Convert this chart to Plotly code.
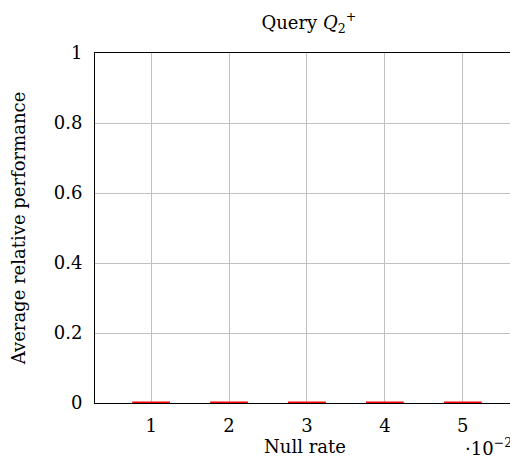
import plotly.graph_objects as go

null_rate = [1, 2, 3, 4, 5]
performance = [0.001, 0.001, 0.001, 0.001, 0.001]
y_ticks = [0, 0.2, 0.4, 0.6, 0.8, 1]
y_tick_labels = ["0", "0.2", "0.4", "0.6", "0.8", "1"]

FONT = "DejaVu Serif"
FS = 18

fig = go.Figure()
fig.add_trace(go.Scatter(
    x=null_rate, y=performance, mode="markers",
    marker=dict(symbol="line-ew", size=27, color="red",
                line=dict(color="red", width=2.2)),
    showlegend=False, cliponaxis=False,
))

fig.update_layout(
    width=510, height=452,
    margin=dict(l=87, r=3, t=45, b=57),
    plot_bgcolor="white", paper_bgcolor="white",
    font=dict(family=FONT, size=FS, color="black"),
    title=dict(text="Query <i>Q</i><sub>2</sub><sup>+</sup>", x=0.59, xanchor="center",
               y=0.968, yanchor="middle", font=dict(size=FS)),
    xaxis=dict(range=[0.28, 5.67], tickvals=null_rate, ticktext=[str(v) for v in null_rate],
               showgrid=True, gridcolor="#c0c0c0", gridwidth=1,
               showline=True, linecolor="black", linewidth=1, mirror=True,
               ticks="", zeroline=False, tickfont=dict(size=FS), ticklabelstandoff=6,
               title=dict(text="Null rate", standoff=2, font=dict(size=FS))),
    yaxis=dict(range=[0, 1], tickvals=y_ticks, ticktext=y_tick_labels,
               showgrid=True, gridcolor="#c0c0c0", gridwidth=1,
               showline=True, linecolor="black", linewidth=1, mirror=True,
               ticks="", zeroline=False, tickfont=dict(size=FS), ticklabelstandoff=8,
               title=dict(text="Average relative performance", standoff=28, font=dict(size=FS))),
)
fig.add_annotation(text="·10<sup>−2</sup>", x=1.0, xref="paper", xanchor="right", xshift=-1,
                   y=-0.125, yref="paper", yanchor="middle", showarrow=False,
                   font=dict(size=FS, family=FONT))
fig.write_html("out.html")
